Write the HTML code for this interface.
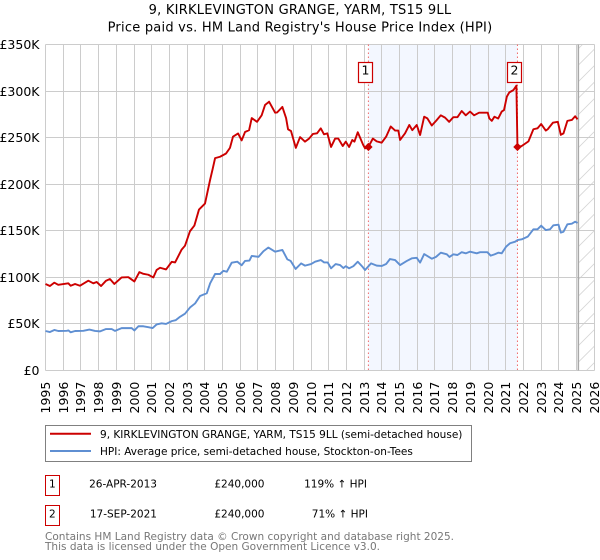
<!DOCTYPE html>
<html lang="en">
<head>
<meta charset="utf-8">
<title>9, KIRKLEVINGTON GRANGE, YARM, TS15 9LL</title>
<style>
html,body{margin:0;padding:0;background:#fff;width:600px;height:560px;overflow:hidden}
svg{display:block}
text{font-family:"DejaVu Sans","Liberation Sans",sans-serif;fill:#000}
</style>
</head>
<body>
<svg id="chart" xmlns="http://www.w3.org/2000/svg" width="600" height="560" viewBox="0 0 600 560">
  <defs>
    <pattern id="hatch" patternUnits="userSpaceOnUse" width="16.5" height="16.5">
      <path d="M-2 18.5L18.5 -2M-2 2L2 -2M14.5 18.5L18.5 14.5" stroke="#d6d6d6" stroke-width="0.8" fill="none"/>
    </pattern>
  </defs>
  <text x="300" y="13.8" text-anchor="middle" font-size="13" letter-spacing="0.23">9, KIRKLEVINGTON GRANGE, YARM, TS15 9LL</text>
  <text x="300" y="31.7" text-anchor="middle" font-size="13" letter-spacing="0.23">Price paid vs. HM Land Registry's House Price Index (HPI)</text>
  <g id="plot"></g>

  <g>
    <rect x="45.5" y="425.5" width="426" height="36" fill="#fff" stroke="#808080" stroke-width="1"/>
    <line x1="50" x2="91" y1="433.7" y2="433.7" stroke="#cc0000" stroke-width="2"/>
    <text x="100" y="438" font-size="10.52">9, KIRKLEVINGTON GRANGE, YARM, TS15 9LL (semi-detached house)</text>
    <line x1="50" x2="91" y1="451" y2="451" stroke="#5f8fd2" stroke-width="2"/>
    <text x="100" y="455" font-size="10.52">HPI: Average price, semi-detached house, Stockton-on-Tees</text>
  </g>

  <g>
    <rect x="45.5" y="475.5" width="14" height="20" fill="#fff" stroke="#cc0000" stroke-width="1"/>
    <text x="52.3" y="487.3" text-anchor="middle" font-size="10.52">1</text>
    <text x="157" y="487.3" text-anchor="end" font-size="10.52">26-APR-2013</text>
    <text x="264.5" y="487.3" text-anchor="end" font-size="10.52">£240,000</text>
    <text x="367" y="487.3" text-anchor="end" font-size="10.52">119% ↑ HPI</text>
    <rect x="45.5" y="505.5" width="14" height="20" fill="#fff" stroke="#cc0000" stroke-width="1"/>
    <text x="52.3" y="517.3" text-anchor="middle" font-size="10.52">2</text>
    <text x="157" y="517.3" text-anchor="end" font-size="10.52">17-SEP-2021</text>
    <text x="264.5" y="517.3" text-anchor="end" font-size="10.52">£240,000</text>
    <text x="368" y="517.3" text-anchor="end" font-size="10.52">71% ↑ HPI</text>
  </g>

  <text x="45" y="540" font-size="10.52" style="fill:#777">Contains HM Land Registry data © Crown copyright and database right 2025.</text>
  <text x="45" y="550" font-size="10.52" style="fill:#777">This data is licensed under the Open Government Licence v3.0.</text>
</svg>
<script>
var xTickYears = [1995,1996,1997,1998,1999,2000,2001,2002,2003,2004,2005,2006,2007,2008,2009,2010,2011,2012,2013,2014,2015,2016,2017,2018,2019,2020,2021,2022,2023,2024,2025,2026];
var yTickValues = [0,50,100,150,200,250,300,350];
var yTickLabels = ['£0','£50K','£100K','£150K','£200K','£250K','£300K','£350K'];

var priceYears = [1995,1995.25,1995.5,1995.72,1996.29,1996.42,1996.67,1996.95,1997.42,1997.7,1997.89,1998.14,1998.42,1998.64,1998.89,1999.3,1999.68,2000.02,2000.3,2000.53,2000.81,2001.09,2001.28,2001.47,2001.81,2002.13,2002.32,2002.69,2002.88,2003.16,2003.41,2003.67,2004.01,2004.29,2004.45,2004.58,2004.86,2005.2,2005.42,2005.59,2005.88,2006.08,2006.27,2006.5,2006.65,2006.95,2007.21,2007.4,2007.63,2007.97,2008.08,2008.38,2008.59,2008.7,2008.87,2009.14,2009.38,2009.66,2009.89,2010.11,2010.34,2010.55,2010.73,2010.92,2011.13,2011.36,2011.54,2011.79,2011.96,2012.15,2012.33,2012.45,2012.64,2012.95,2013.05,2013.24,2013.49,2013.71,2013.99,2014.24,2014.5,2014.75,2014.93,2015.03,2015.31,2015.55,2015.72,2015.97,2016.16,2016.39,2016.57,2016.82,2017.06,2017.33,2017.57,2017.8,2018.04,2018.27,2018.51,2018.74,2018.98,2019.21,2019.49,2019.98,2020.07,2020.21,2020.36,2020.57,2020.77,2020.9,2021.06,2021.2,2021.43,2021.6,2021.66,2021.9,2022.28,2022.56,2022.79,2023,2023.26,2023.37,2023.66,2023.94,2024.11,2024.26,2024.48,2024.73,2024.92,2025.05];
var priceValues = [92.9,90.7,94.3,92,93.6,91,92.9,91,96.4,93.6,95,90.7,96.4,98.2,92.9,99.9,100.2,95.6,105.6,103.8,102.8,99.9,108,110.3,108.5,116.7,116,129.8,134,149.5,155.6,172.8,179.2,204,217,228,229.5,233,239,251,254.5,247,256,258,271,267,274,285,288.6,276.8,277,283,271,259,257,239,250.6,245.7,249,254,254.6,260,253.6,254.6,240,249,249,241,245.7,240,247.5,245.7,255.8,242,238.5,240,249,246,244.6,251,262,257.6,257.6,247.5,254.6,263.6,258,263.6,252.8,272.5,270.7,263,268,274,271.5,267,272,272,278.6,274,278,274,276.8,276.8,270.7,268,272.5,270.5,278,279.6,294,298.6,301,305.8,240,241,246,259,260,264.6,257.6,259,266,267,253,254.6,268,269,273,269.7];

var hpiYears = [1995,1995.25,1995.5,1995.72,1996.2,1996.3,1996.42,1996.67,1997.14,1997.48,1997.8,1998.08,1998.42,1998.74,1998.93,1999.3,1999.87,2000.02,2000.25,2000.53,2000.81,2001.05,2001.28,2001.56,2001.81,2002.13,2002.35,2002.6,2002.88,2003.16,2003.45,2003.73,2004.11,2004.3,2004.58,2004.86,2005.05,2005.24,2005.52,2005.84,2006.08,2006.27,2006.52,2006.65,2007.03,2007.31,2007.59,2007.97,2008.38,2008.66,2008.85,2009.13,2009.44,2009.66,2010,2010.23,2010.55,2010.74,2010.94,2011.13,2011.39,2011.64,2011.83,2011.96,2012.15,2012.39,2012.64,2012.9,2013.05,2013.39,2013.71,2013.99,2014.24,2014.46,2014.75,2015.03,2015.41,2015.69,2015.97,2016.16,2016.39,2016.82,2017.06,2017.33,2017.67,2017.82,2018.04,2018.27,2018.51,2018.74,2018.98,2019.36,2019.55,2019.96,2020.15,2020.36,2020.59,2020.77,2021.02,2021.24,2021.53,2021.66,2021.9,2022.24,2022.56,2022.79,2023,2023.26,2023.5,2023.69,2023.98,2024.11,2024.26,2024.48,2024.73,2024.92,2025.05];
var hpiValues = [42.4,41.3,43.5,42.4,42.6,43,41,42.4,42.6,44,42.5,42,44.5,44.5,42.5,45.5,45.5,43,47.5,47.5,46.5,45.6,49.5,50.7,50,53,54,57.7,61,67.6,72,80,82.9,93.6,103.6,103.6,107,106,115.8,116.8,113,117.6,118,123,122,128,132,127.6,129.4,119.4,117.6,109,115,112.6,114.3,116.8,118.6,116,116,109.7,114.3,113.2,110,112,109.7,112,116.8,111.5,107.9,115,112.6,112.2,114.3,119.7,118.6,113.2,117.6,120.4,121,115.8,125,120,122,126.5,124.7,121.9,124.7,124,127,125.8,127.6,125.8,127,127,123.3,124.7,126.5,125.8,133,136.6,138.3,140,140.8,143.7,151.6,151.6,155.5,150.8,151.6,155.9,156.5,148,149,157,157.6,159.8,158.4];

var saleYears = [2013.24,2021.66];
var salePrices = [240,240];
var saleLabels = ['1','2'];
var forecastStartYear = 2025.1;

var SVGNS = 'http://www.w3.org/2000/svg';
var plot = document.getElementById('plot');
var LEFT = 45.5, RIGHT = 594.5, TOP = 44.5, BOTTOM = 370.5;
function xScale(year) { return LEFT + (year - 1995) * 17.703; }
function yScale(value) { return BOTTOM - value * (BOTTOM - TOP) / 350; }
function snap(p) { return Math.round(p - 0.5) + 0.5; }
function make(tag, attrs, parent) {
  var el = document.createElementNS(SVGNS, tag);
  for (var k in attrs) { el.setAttribute(k, attrs[k]); }
  (parent || plot).appendChild(el);
  return el;
}
function pathFrom(xs, ys) {
  var d = '';
  for (var i = 0; i < xs.length; i++) {
    d += (i ? 'L' : 'M') + xScale(xs[i]).toFixed(2) + ' ' + yScale(ys[i]).toFixed(2);
  }
  return d;
}

var span = make('rect', {x: xScale(saleYears[0]), y: TOP, width: xScale(saleYears[1]) - xScale(saleYears[0]), height: BOTTOM - TOP, fill: '#f3f7ff'});



var hatch = make('rect', {x: xScale(forecastStartYear), y: TOP, width: RIGHT - xScale(forecastStartYear), height: BOTTOM - TOP, fill: 'url(#hatch)'});



xTickYears.forEach(function (yr) {
  var gx = snap(xScale(yr));
  var line = make('line', {x1: gx, x2: gx, y1: TOP, y2: BOTTOM, stroke: '#cccccc', 'stroke-width': 1});
  
  
  var label = make('text', {transform: 'translate(' + (gx + 4.6) + ',381.7) rotate(-90)', 'text-anchor': 'end', 'font-size': 12.5});
  
  
  label.textContent = yr;
});

yTickValues.forEach(function (v, i) {
  var gy = snap(yScale(v));
  var line = make('line', {x1: LEFT, x2: RIGHT, y1: gy, y2: gy, stroke: '#cccccc', 'stroke-width': 1});
  
  
  var label = make('text', {x: 39.5, y: gy + 4.5, 'text-anchor': 'end', 'font-size': 12.5});
  
  
  label.textContent = yTickLabels[i];
});

var rightEdge = make('line', {x1: RIGHT, x2: RIGHT, y1: TOP, y2: BOTTOM, stroke: '#cccccc', 'stroke-width': 1});



var dataEnd = make('line', {x1: xScale(forecastStartYear), x2: xScale(forecastStartYear), y1: TOP, y2: BOTTOM, stroke: '#a8a8a8', 'stroke-width': 1.5});



saleYears.forEach(function (yr) {
  var v = make('line', {x1: xScale(yr), x2: xScale(yr), y1: TOP, y2: BOTTOM, stroke: '#f06a6a', 'stroke-width': 1, 'stroke-dasharray': '1.5 2.5'});
  
  
});

var hpiLine = make('path', {d: pathFrom(hpiYears, hpiValues), fill: 'none', stroke: '#5f8fd2', 'stroke-width': 1.9, 'stroke-linejoin': 'round'});



var priceLine = make('path', {d: pathFrom(priceYears, priceValues), fill: 'none', stroke: '#cc0000', 'stroke-width': 1.9, 'stroke-linejoin': 'round'});



saleYears.forEach(function (yr, i) {
  var cx = xScale(yr), cy = yScale(salePrices[i]), r = 4.2;
  var dot = make('path', {d: 'M' + cx + ' ' + (cy - r) + 'L' + (cx + r) + ' ' + cy + 'L' + cx + ' ' + (cy + r) + 'L' + (cx - r) + ' ' + cy + 'Z', fill: '#cc0000'});
  
  
  var bx = snap(cx - 3) - 7;
  var box = make('rect', {x: bx, y: 62.5, width: 14, height: 20, fill: '#fff', stroke: '#cc0000', 'stroke-width': 1.2});
  
  
  var t = make('text', {x: bx + 7, y: 74.5, 'text-anchor': 'middle', 'font-size': 12.5});
  
  
  t.textContent = saleLabels[i];
});
</script>
</body>
</html>
